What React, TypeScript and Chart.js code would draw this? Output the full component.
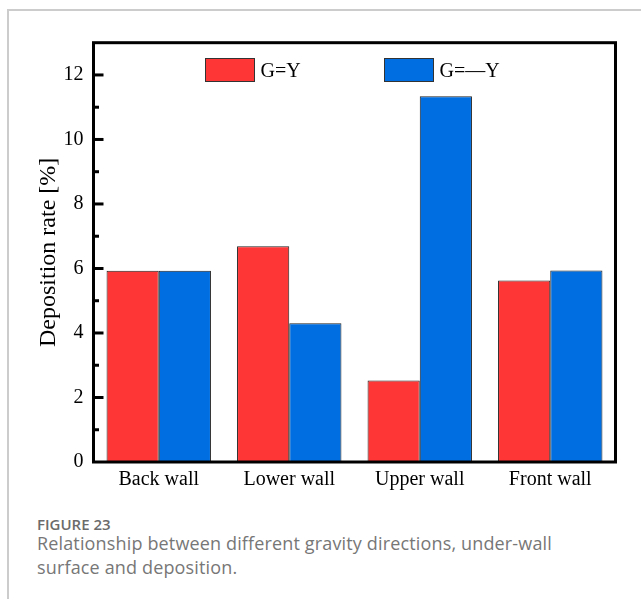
import React, { useEffect, useRef } from 'react';
import { Chart, registerables } from 'chart.js';

Chart.register(...registerables);

const categories = ['Back wall', 'Lower wall', 'Upper wall', 'Front wall'];
const seriesLabels = ['G=Y', 'G=\u2014Y'];
const seriesColors = ['#FF3636', '#006EE0'];
const gEqualsY = [5.93, 6.69, 2.53, 5.63];
const gEqualsMinusY = [5.93, 4.3, 11.34, 5.94];
const yMin = 0;
const yMax = 13;
const yStep = 2;
const yTitle = 'Deposition rate [%]';
const captionLabel = 'FIGURE 23';
const captionLine1 = 'Relationship between different gravity directions, under-wall';
const captionLine2 = 'surface and deposition.';

const SERIF = '"Liberation Serif", "Times New Roman", serif';

const framePlugin = {
  id: 'frameAndTicks',
  afterDatasetsDraw(chart: any) {
    const { ctx, chartArea, scales } = chart;
    const { left, right, top, bottom } = chartArea;
    const y = scales.y;
    ctx.save();
    ctx.strokeStyle = '#000';
    ctx.lineWidth = 3;
    ctx.strokeRect(left, top, right - left, bottom - top);
    for (let v = yMin + 1; v < yMax; v++) {
      const py = y.getPixelForValue(v);
      const len = v % yStep === 0 ? 10 : 5.5;
      ctx.beginPath();
      ctx.moveTo(left, py);
      ctx.lineTo(left + len, py);
      ctx.stroke();
    }
    ctx.restore();
  },
};

const legendPlugin = {
  id: 'insideLegend',
  afterDraw(chart: any) {
    const { ctx, chartArea } = chart;
    const { left, top } = chartArea;
    const offsets = [111, 290];
    ctx.save();
    chart.data.datasets.forEach((ds: any, i: number) => {
      const bx = Math.round(left + offsets[i]) + 0.5;
      const by = Math.round(top + 15.5) + 0.5;
      const bw = 49;
      const bh = 23;
      ctx.fillStyle = ds.backgroundColor;
      ctx.fillRect(bx, by, bw, bh);
      ctx.lineWidth = 1;
      ctx.strokeStyle = '#333';
      ctx.strokeRect(bx, by, bw, bh);
      ctx.fillStyle = '#000';
      ctx.font = `20px ${SERIF}`;
      ctx.textBaseline = 'middle';
      ctx.textAlign = 'left';
      ctx.fillText(ds.label, bx + bw + 6, top + 29);
    });
    ctx.restore();
  },
};

function BarChart() {
  const ref = useRef<HTMLCanvasElement | null>(null);
  useEffect(() => {
    if (!ref.current) return;
    const chart = new Chart(ref.current, {
      type: 'bar',
      data: {
        labels: categories,
        datasets: [
          {
            label: seriesLabels[0],
            data: gEqualsY,
            backgroundColor: seriesColors[0],
            borderColor: '#222',
            borderWidth: 1,
            barPercentage: 1,
            categoryPercentage: 0.8,
          },
          {
            label: seriesLabels[1],
            data: gEqualsMinusY,
            backgroundColor: seriesColors[1],
            borderColor: '#222',
            borderWidth: 1,
            barPercentage: 1,
            categoryPercentage: 0.8,
          },
        ],
      },
      options: {
        animation: false,
        responsive: false,
        layout: { padding: { left: 0, right: 25.5, top: 42.7, bottom: 0 } },
        plugins: {
          legend: { display: false },
          tooltip: { enabled: false },
        },
        scales: {
          x: {
            grid: { display: false, drawTicks: false },
            border: { display: false },
            ticks: {
              font: { family: SERIF, size: 20 },
              color: '#000',
              padding: 6,
            },
            afterFit: (s: any) => {
              s.height = 38;
            },
          },
          y: {
            min: yMin,
            max: yMax,
            grid: { display: false, drawTicks: false },
            border: { display: false },
            ticks: {
              stepSize: yStep,
              includeBounds: false,
              font: { family: SERIF, size: 20 },
              color: '#000',
              padding: 10,
              callback: (v: any) => (Number(v) % yStep === 0 ? String(v) : ''),
            },
            title: {
              display: true,
              text: yTitle,
              font: { family: SERIF, size: 24 },
              color: '#000',
              padding: { top: 34.6, bottom: 0 },
            },
            afterFit: (s: any) => {
              s.width = 93.5;
            },
          },
        },
      } as any,
      plugins: [framePlugin, legendPlugin],
    });
    return () => chart.destroy();
  }, []);
  return (
    <canvas
      ref={ref}
      width={641}
      height={500}
      style={{ position: 'absolute', left: 0, top: 0, width: 641, height: 500 }}
    />
  );
}

export default function App() {
  const captionFont = '"Open Sans", "Noto Sans", sans-serif';
  return (
    <div
      style={{
        position: 'absolute',
        left: 0,
        top: 0,
        width: 641,
        height: 599,
        overflow: 'hidden',
        background: '#fff',
      }}
    >
      <div
        style={{
          position: 'absolute',
          left: 7,
          top: 9,
          width: 700,
          height: 700,
          borderTop: '2px solid #cccccc',
          borderLeft: '2px solid #cccccc',
        }}
      />
      <BarChart />
      <div
        style={{
          position: 'absolute',
          left: 37,
          top: 514,
          fontFamily: captionFont,
          fontSize: 15,
          fontWeight: 600,
          color: '#6b6b6b',
          whiteSpace: 'nowrap',
        }}
      >
        {captionLabel}
      </div>
      <div
        style={{
          position: 'absolute',
          left: 37,
          top: 531,
          fontFamily: captionFont,
          fontSize: 18,
          letterSpacing: 0.15,
          color: '#777777',
          whiteSpace: 'nowrap',
        }}
      >
        {captionLine1}
      </div>
      <div
        style={{
          position: 'absolute',
          left: 37,
          top: 554.5,
          fontFamily: captionFont,
          fontSize: 18,
          letterSpacing: 0.15,
          color: '#777777',
          whiteSpace: 'nowrap',
        }}
      >
        {captionLine2}
      </div>
    </div>
  );
}
